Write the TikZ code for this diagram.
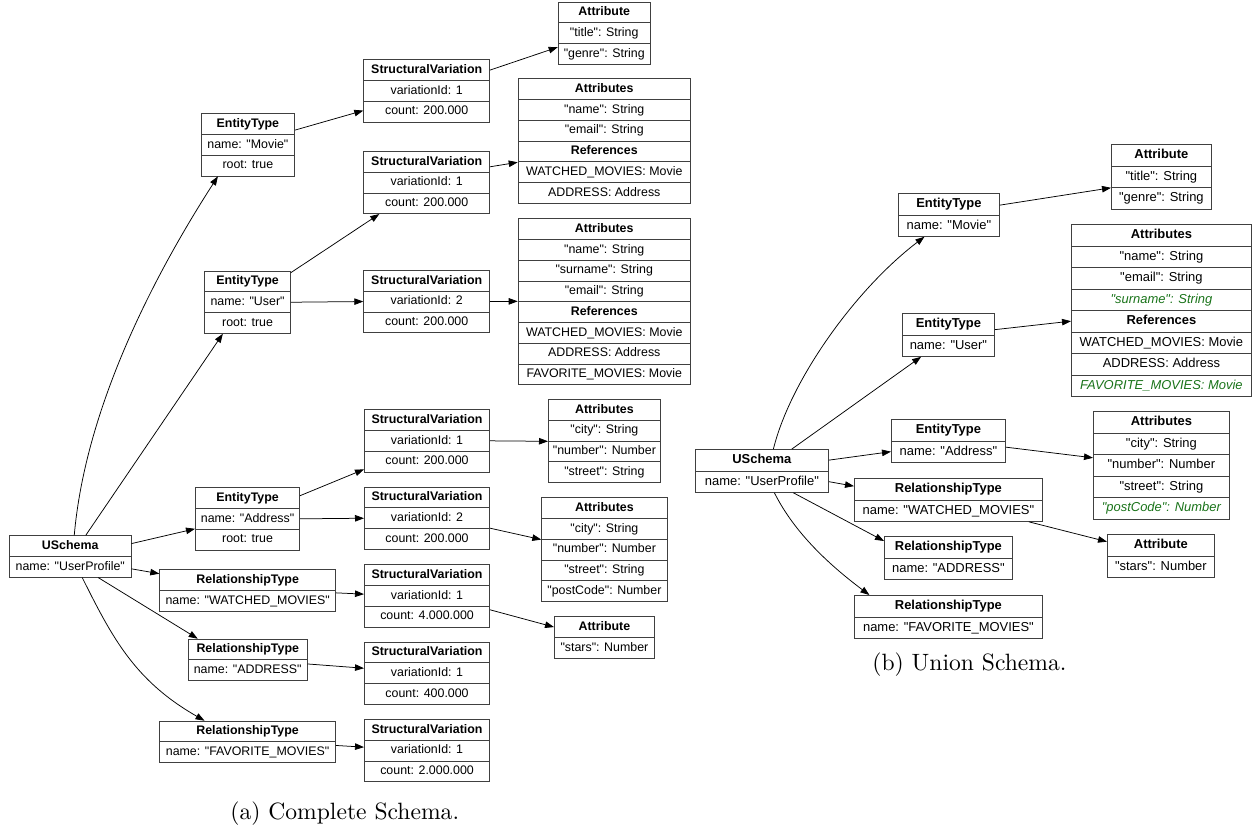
\documentclass[tikz,border=0pt]{standalone}
\usepackage{fontspec}
\setsansfont{Liberation Sans}[Ligatures=TeXOff]
\newfontfamily\capfont{lmroman10-regular.otf}
\usetikzlibrary{arrows.meta}
\definecolor{gtext}{RGB}{25,115,25}
\definecolor{boxline}{RGB}{64,64,64}
\newcommand\gi[1]{\textcolor{gtext}{\itshape #1}}
\newcommand\bh[1]{\textbf{#1}}
\newcommand\rec[7]{%
  \foreach \t [count=\i] in {#7}{%
    \node[#1, minimum width=#5pt, minimum height=#6pt, anchor=north west] (#2-\i) at (#3, {#4+(\i-1)*#6}) {\t};
  }%
}
\tikzset{
  cellL/.style={draw=boxline, line width=0.8pt, inner sep=0pt,
    font=\sffamily\fontsize{12.4}{14}\selectfont, text height=9.2pt, text depth=2.7pt},
  cellR/.style={cellL, font=\sffamily\fontsize{12.95}{15}\selectfont, text height=9.6pt, text depth=2.8pt},
  edge/.style={draw=black, line width=0.75pt, -{Triangle[length=9pt,width=6.5pt]}},
  captxt/.style={font=\capfont\fontsize{23.6}{28}\selectfont, inner sep=0pt}
}
\begin{document}
\begin{tikzpicture}[x=1pt, y=-1pt]
\useasboundingbox (0,0) rectangle (1257,830);
% ---------------- (a) Complete Schema ----------------
\rec{cellL}{lam}{557.7}{1.7}{92.3}{20.75}{\bh{Attribute},"title": String,"genre": String}
\rec{cellL}{lsvm}{363.3}{59.3}{126}{20.75}{\bh{StructuralVariation},variationId: 1,count: 200.000}
\rec{cellL}{lau1}{517.7}{78.3}{172.3}{20.75}{\bh{Attributes},"name": String,"email": String,\bh{References},WATCHED\_MOVIES: Movie,ADDRESS: Address}
\rec{cellL}{lsvu1}{363.3}{151}{126}{20.75}{\bh{StructuralVariation},variationId: 1,count: 200.000}
\rec{cellL}{lau2}{517.7}{218.3}{172.3}{20.75}{\bh{Attributes},"name": String,"surname": String,"email": String,\bh{References},WATCHED\_MOVIES: Movie,ADDRESS: Address,FAVORITE\_MOVIES: Movie}
\rec{cellL}{lsvu2}{363.3}{270}{126}{20.75}{\bh{StructuralVariation},variationId: 2,count: 200.000}
\rec{cellL}{letm}{200.7}{113.3}{93.6}{20.75}{\bh{EntityType},name: "Movie",root: true}
\rec{cellL}{letu}{204.3}{270.7}{85.7}{20.75}{\bh{EntityType},name: "User",root: true}
\rec{cellL}{lus}{9}{535.3}{121.7}{20.75}{\bh{USchema},name: "UserProfile"}
\rec{cellL}{leta}{195}{487.3}{104.3}{20.75}{\bh{EntityType},name: "Address",root: true}
\rec{cellL}{lrw}{159.3}{569.3}{176}{20.75}{\bh{RelationshipType},name: "WATCHED\_MOVIES"}
\rec{cellL}{lra}{188}{638.7}{118.7}{20.75}{\bh{RelationshipType},name: "ADDRESS"}
\rec{cellL}{lrf}{159.3}{720.7}{175.7}{20.75}{\bh{RelationshipType},name: "FAVORITE\_MOVIES"}
\rec{cellL}{lsva1}{364}{409.3}{125.3}{20.75}{\bh{StructuralVariation},variationId: 1,count: 200.000}
\rec{cellL}{laa1}{548}{399}{112}{20.75}{\bh{Attributes},"city": String,"number": Number,"street": String}
\rec{cellL}{lsva2}{364}{486.7}{125.3}{20.75}{\bh{StructuralVariation},variationId: 2,count: 200.000}
\rec{cellL}{laa2}{541.3}{497.3}{125.4}{20.75}{\bh{Attributes},"city": String,"number": Number,"street": String,"postCode": Number}
\rec{cellL}{lsvw}{364}{564.3}{125.3}{20.75}{\bh{StructuralVariation},variationId: 1,count: 4.000.000}
\rec{cellL}{lst}{554}{616.3}{100}{20.75}{\bh{Attribute},"stars": Number}
\rec{cellL}{lsvad}{364}{641.7}{125.3}{20.75}{\bh{StructuralVariation},variationId: 1,count: 400.000}
\rec{cellL}{lsvf}{364}{719}{125.3}{20.75}{\bh{StructuralVariation},variationId: 1,count: 2.000.000}
% edges (a)
\draw[edge] ([xshift=4pt]lus-1.north) .. controls +(11,-125) and +(-67,104) .. ([xshift=-30pt]letm-3.south);
\draw[edge] ([xshift=15.5pt]lus-1.north) -- ([xshift=-24.7pt]letu-3.south);
\draw[edge] ([yshift=2.5pt]lus-1.east) -- (leta-3.north west);
\draw[edge] ([yshift=-2pt]lus-2.east) -- ([yshift=6.4pt]lrw-1.west);
\draw[edge] ([xshift=28pt]lus-2.south) -- ([xshift=-50pt]lra-1.north);
\draw[edge] ([xshift=12pt]lus-2.south) .. controls +(30,60) and +(-70,-40) .. ([xshift=-43pt]lrf-1.north);
\draw[edge] ([yshift=-6pt]letm-1.east) -- ([yshift=1pt]lsvm-3.west);
\draw[edge] ([yshift=-2pt]letu-1.north east) -- ([xshift=16pt]lsvu1-3.south west);
\draw[edge] (letu-2.east) -- (lsvu2-2.west);
\draw[edge] (lsvm-1.east) -- ([yshift=-4pt]lam-3.north west);
\draw[edge] ([yshift=-5pt]lsvu1-1.east) -- ([yshift=-1pt]lau1-5.north west);
\draw[edge] (lsvu2-2.east) -- (lau2-5.north west);
\draw[edge] ([yshift=2.4pt]leta-1.east) -- ([yshift=3pt]lsva1-3.south west);
\draw[edge] (leta-2.east) -- (lsva2-2.west);
\draw[edge] (lsva1-2.east) -- (laa1-2.south west);
\draw[edge] (lsva2-3.north east) -- (laa2-2.south west);
\draw[edge] ([yshift=-2pt]lrw-1.south east) -- ([yshift=1.7pt]lsvw-2.west);
\draw[edge] ([yshift=-4pt]lsvw-3.north east) -- (lst-1.west);
\draw[edge] ([yshift=-4.5pt]lra-2.north east) -- ([yshift=5pt]lsvad-2.west);
\draw[edge] ([yshift=-4pt]lrf-2.north east) -- ([yshift=3.4pt]lsvf-2.west);
\node[captxt] (capa) at (344.7,813.5) {(a) Complete Schema.};
% ---------------- (b) Union Schema ----------------
\rec{cellR}{rem}{898}{193}{101}{21.5}{\bh{EntityType},name: "Movie"}
\rec{cellR}{reu}{902}{313}{92}{21.5}{\bh{EntityType},name: "User"}
\rec{cellR}{rea}{891}{419}{114}{21.5}{\bh{EntityType},name: "Address"}
\rec{cellR}{rrw}{854}{478}{188}{21.5}{\bh{RelationshipType},name: "WATCHED\_MOVIES"}
\rec{cellR}{rra}{884}{536}{128}{21.5}{\bh{RelationshipType},name: "ADDRESS"}
\rec{cellR}{rrf}{854}{595}{188}{21.5}{\bh{RelationshipType},name: "FAVORITE\_MOVIES"}
\rec{cellR}{rus}{695}{449}{133}{21.5}{\bh{USchema},name: "UserProfile"}
\rec{cellR}{ram}{1111}{144}{100}{21.5}{\bh{Attribute},"title": String,"genre": String}
\rec{cellR}{rau}{1071}{224}{180}{21.5}{\bh{Attributes},"name": String,"email": String,\gi{"surname": String},\bh{References},WATCHED\_MOVIES: Movie,ADDRESS: Address,\gi{FAVORITE\_MOVIES: Movie}}
\rec{cellR}{raa}{1093}{411}{136}{21.5}{\bh{Attributes},"city": String,"number": Number,"street": String,\gi{"postCode": Number}}
\rec{cellR}{rst}{1107}{534}{107}{21.5}{\bh{Attribute},"stars": Number}
% edges (b)
\draw[edge] ([xshift=11.5pt]rus-1.north) .. controls +(17,-69) and +(-69,52.5) .. ([xshift=-24.5pt]rem-2.south);
\draw[edge] ([xshift=30pt]rus-1.north) -- ([xshift=-27.3pt]reu-2.south);
\draw[edge] (rus-1.east) -- (rea-2.west);
\draw[edge] (rus-2.east) -- ([yshift=3pt]rrw-1.west);
\draw[edge] ([xshift=31.5pt]rus-2.south) -- ([yshift=-5pt]rra-1.north west);
\draw[edge] ([xshift=12.5pt]rus-2.south) .. controls +(20,40) and +(-40,-30) .. ([xshift=-79pt]rrf-1.north);
\draw[edge] ([yshift=-1pt]rem-1.east) -- (ram-2.south west);
\draw[edge] ([yshift=-5.5pt]reu-1.east) -- (rau-5.west);
\draw[edge] ([yshift=4.5pt]rea-2.east) -- ([yshift=-3pt]raa-2.south west);
\draw[edge] ([xshift=-14pt]rrw-2.south east) -- ([yshift=3.5pt]rst-1.west);
\node[captxt] (capb) at (969.4,665) {(b) Union Schema.};
\end{tikzpicture}
\end{document}
